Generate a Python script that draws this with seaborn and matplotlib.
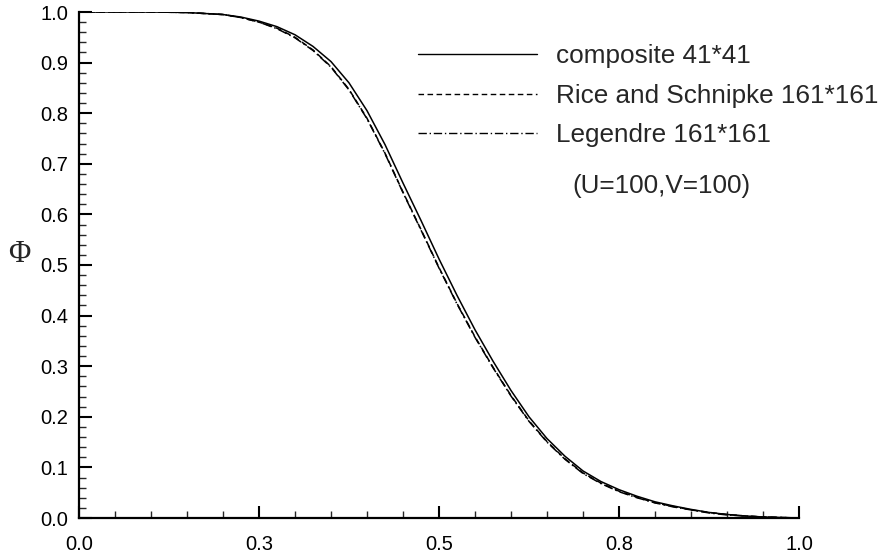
import matplotlib
matplotlib.use("Agg")
import matplotlib.pyplot as plt
import seaborn as sns
import pandas as pd
from matplotlib.ticker import MultipleLocator, FixedLocator, FormatStrFormatter

# data
x_vals = [0.000, 0.025, 0.050, 0.075, 0.100, 0.125, 0.150, 0.175, 0.200, 0.225,
          0.250, 0.275, 0.300, 0.325, 0.350, 0.375, 0.400, 0.425, 0.450, 0.475,
          0.500, 0.525, 0.550, 0.575, 0.600, 0.625, 0.650, 0.675, 0.700, 0.725,
          0.750, 0.775, 0.800, 0.825, 0.850, 0.875, 0.900, 0.925, 0.950, 0.975, 1.000]

composite = [1.000, 1.000, 1.000, 1.000, 1.000, 0.9995, 0.999, 0.997, 0.995, 0.990,
             0.982, 0.971, 0.955, 0.932, 0.902, 0.860, 0.805, 0.738, 0.662, 0.588,
             0.512, 0.440, 0.372, 0.310, 0.252, 0.200, 0.157, 0.122, 0.093, 0.072,
             0.056, 0.043, 0.032, 0.024, 0.017, 0.011, 0.007, 0.004, 0.002, 0.001, 0.000]

rice_schnipke = [1.000, 1.000, 1.000, 1.000, 1.000, 0.9995, 0.999, 0.997, 0.995, 0.989,
                 0.980, 0.968, 0.950, 0.925, 0.892, 0.847, 0.790, 0.721, 0.644, 0.570,
                 0.495, 0.424, 0.358, 0.298, 0.242, 0.192, 0.151, 0.117, 0.089, 0.069,
                 0.053, 0.041, 0.030, 0.023, 0.016, 0.011, 0.007, 0.004, 0.002, 0.001, 0.000]

legendre = [1.000, 1.000, 1.000, 1.000, 1.000, 0.9995, 0.999, 0.997, 0.995, 0.989,
            0.980, 0.967, 0.949, 0.924, 0.891, 0.846, 0.789, 0.720, 0.643, 0.569,
            0.494, 0.423, 0.357, 0.297, 0.241, 0.191, 0.150, 0.116, 0.088, 0.068,
            0.052, 0.040, 0.030, 0.022, 0.016, 0.010, 0.006, 0.004, 0.002, 0.001, 0.000]

x_ticks = [0.0, 0.25, 0.5, 0.75, 1.0]
x_tick_labels = ["0.0", "0.3", "0.5", "0.8", "1.0"]
series_labels = ["composite 41*41", "Rice and Schnipke 161*161", "Legendre 161*161"]

sns.set_style("ticks")
plt.rcParams["font.family"] = ["Liberation Sans", "DejaVu Sans"]

fig = plt.figure(figsize=(8.9, 5.58), dpi=100)
ax = fig.add_axes([79 / 890, 1 - 518 / 558, 720 / 890, 506 / 558])

styles = ["-", (0, (4, 2.5)), (0, (6, 2, 1, 2))]
for ys, lab, ls in zip([composite, rice_schnipke, legendre], series_labels, styles):
    df = pd.DataFrame({"x": x_vals, "phi": ys})
    sns.lineplot(data=df, x="x", y="phi", ax=ax, color="black", linewidth=1.1,
                 linestyle=ls, label=lab)

ax.set_xlim(0, 1)
ax.set_ylim(0, 1)
sns.despine(ax=ax)
for s in ["left", "bottom"]:
    ax.spines[s].set_linewidth(1.6)
    ax.spines[s].set_color("black")

ax.xaxis.set_major_locator(FixedLocator(x_ticks))
ax.set_xticklabels(x_tick_labels)
ax.xaxis.set_minor_locator(MultipleLocator(0.05))
ax.yaxis.set_major_locator(MultipleLocator(0.1))
ax.yaxis.set_minor_locator(MultipleLocator(0.02))
ax.yaxis.set_major_formatter(FormatStrFormatter("%.1f"))
ax.tick_params(which="major", direction="in", length=9, width=1.5, labelsize=14.5, colors="black")
ax.tick_params(which="minor", direction="in", length=5, width=1.0)
ax.tick_params(axis="x", which="major", pad=12)
ax.tick_params(axis="y", which="major", pad=8)

ax.set_xlabel("")
ax.set_ylabel("")
fig.text(19 / 890, 1 - 254 / 558, "Φ", fontsize=22, ha="center", va="center",
         family=["Liberation Serif", "DejaVu Serif"])

leg = ax.legend(loc="upper left", bbox_to_anchor=(418 / 890, 1 - 44 / 558),
                bbox_transform=fig.transFigure, frameon=False, fontsize=18.8,
                handlelength=4.55, handletextpad=0.75, labelspacing=0.6,
                borderpad=0, borderaxespad=0)
for line in leg.get_lines():
    line.set_linewidth(1.0)

fig.text(661 / 890, 1 - 186 / 558, "(U=100,V=100)", fontsize=18.8, ha="center", va="center")

fig.savefig("out.png", dpi=100)
